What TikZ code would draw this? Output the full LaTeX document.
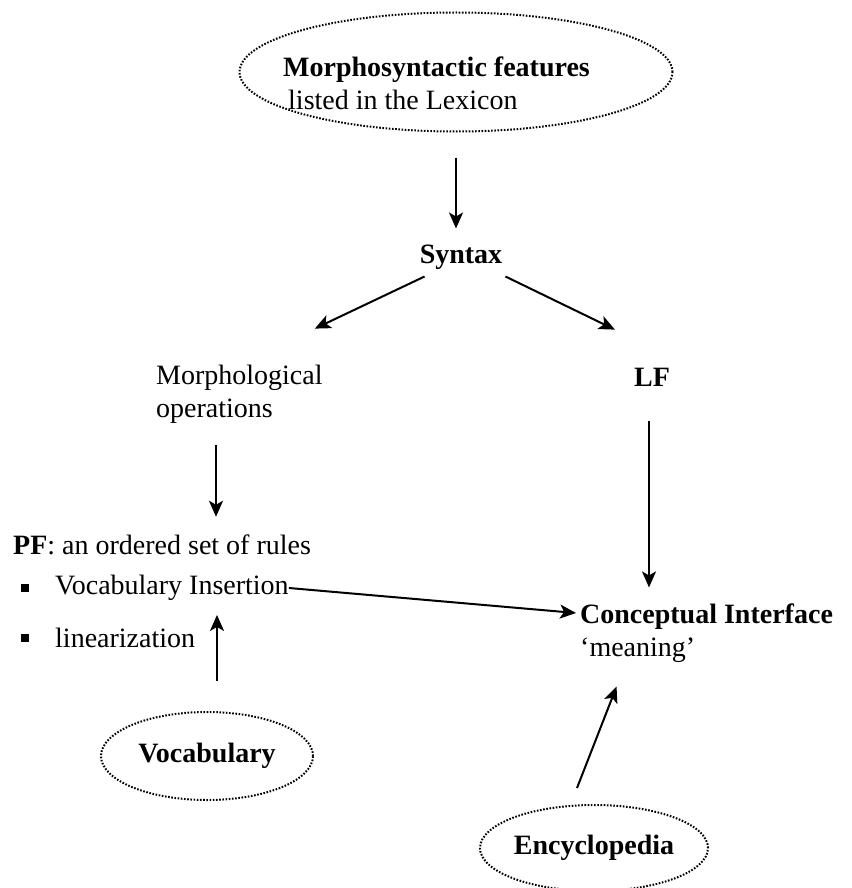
\documentclass[tikz,border=0pt]{standalone}
\usepackage{fontspec}
\setmainfont{Liberation Serif}
\usetikzlibrary{shapes.geometric,arrows.meta}

\begin{document}
\begin{tikzpicture}[x=1pt,y=-1pt,
    every node/.style={font=\fontsize{28}{33}\selectfont,inner sep=0pt},
    store/.style={ellipse,draw,line width=2pt,dash pattern=on 1.6pt off 1.6pt},
    bullet/.style={fill,minimum size=8pt},
    feed/.style={-{Stealth[length=16pt,width=14pt,inset=4pt]},line width=2pt}]
  \useasboundingbox (0,0) rectangle (851,888);

  \node[store,minimum width=433pt,minimum height=119pt] (lexicon) at (456,72) {};
  \node[anchor=west,align=left] (lextext) at (283,83)
    {\textbf{Morphosyntactic features}\\\hspace{5pt}listed in the Lexicon};
  \node (syntax) at (461,257) {\textbf{Syntax}};
  \node[anchor=west,align=left] (morph) at (156,394) {Morphological\\operations};
  \node (lf) at (652,377) {\textbf{LF}};
  \node[anchor=west] (pf) at (13,545) {\textbf{PF}: an ordered set of rules};
  \node[bullet] (b1) at (25,588) {};
  \node[anchor=west] (vocins) at (55,588) {Vocabulary Insertion};
  \node[bullet] (b2) at (25,638) {};
  \node[anchor=west] (lin) at (55,638) {linearization};
  \node[anchor=west,align=left] (concept) at (580,633)
    {\textbf{Conceptual Interface}\\`meaning'};
  \node[store,minimum width=212pt,minimum height=88pt] (vocab) at (207,756)
    {\raisebox{-5pt}{\textbf{Vocabulary}}};
  \node[store,minimum width=228pt,minimum height=86pt] (encyc) at (594,848)
    {\raisebox{-8pt}{\textbf{Encyclopedia}}};

  \draw[feed] ([yshift=-25pt]lexicon.south) -- ([yshift=16pt]lexicon.south |- syntax.north);
  \draw[feed] ([xshift=5pt,yshift=-7pt]syntax.south west) -- ([xshift=-8pt,yshift=36pt]morph.north east);
  \draw[feed] ([xshift=3pt,yshift=-7pt]syntax.south east) -- ([xshift=-19pt,yshift=38pt]lf.north west);
  \draw[feed] ([xshift=60pt,yshift=-22pt]morph.south west) -- ([xshift=203pt,yshift=18pt]pf.north west);
  \draw[feed] ([xshift=-3pt,yshift=-35pt]lf.south) -- ([xshift=-3pt,yshift=16pt]lf.south |- concept.north);
  \draw[feed] (vocins.east) -- ([xshift=-4pt,yshift=20pt]concept.west);
  \draw[feed] ([xshift=10pt,yshift=30pt]vocab.north) -- ([xshift=10pt,yshift=-14pt]vocab.north |- vocins.south);
  \draw[feed] ([xshift=-17pt,yshift=16pt]encyc.north) -- ([xshift=-90pt,yshift=-24pt]concept.south);
\end{tikzpicture}
\end{document}
